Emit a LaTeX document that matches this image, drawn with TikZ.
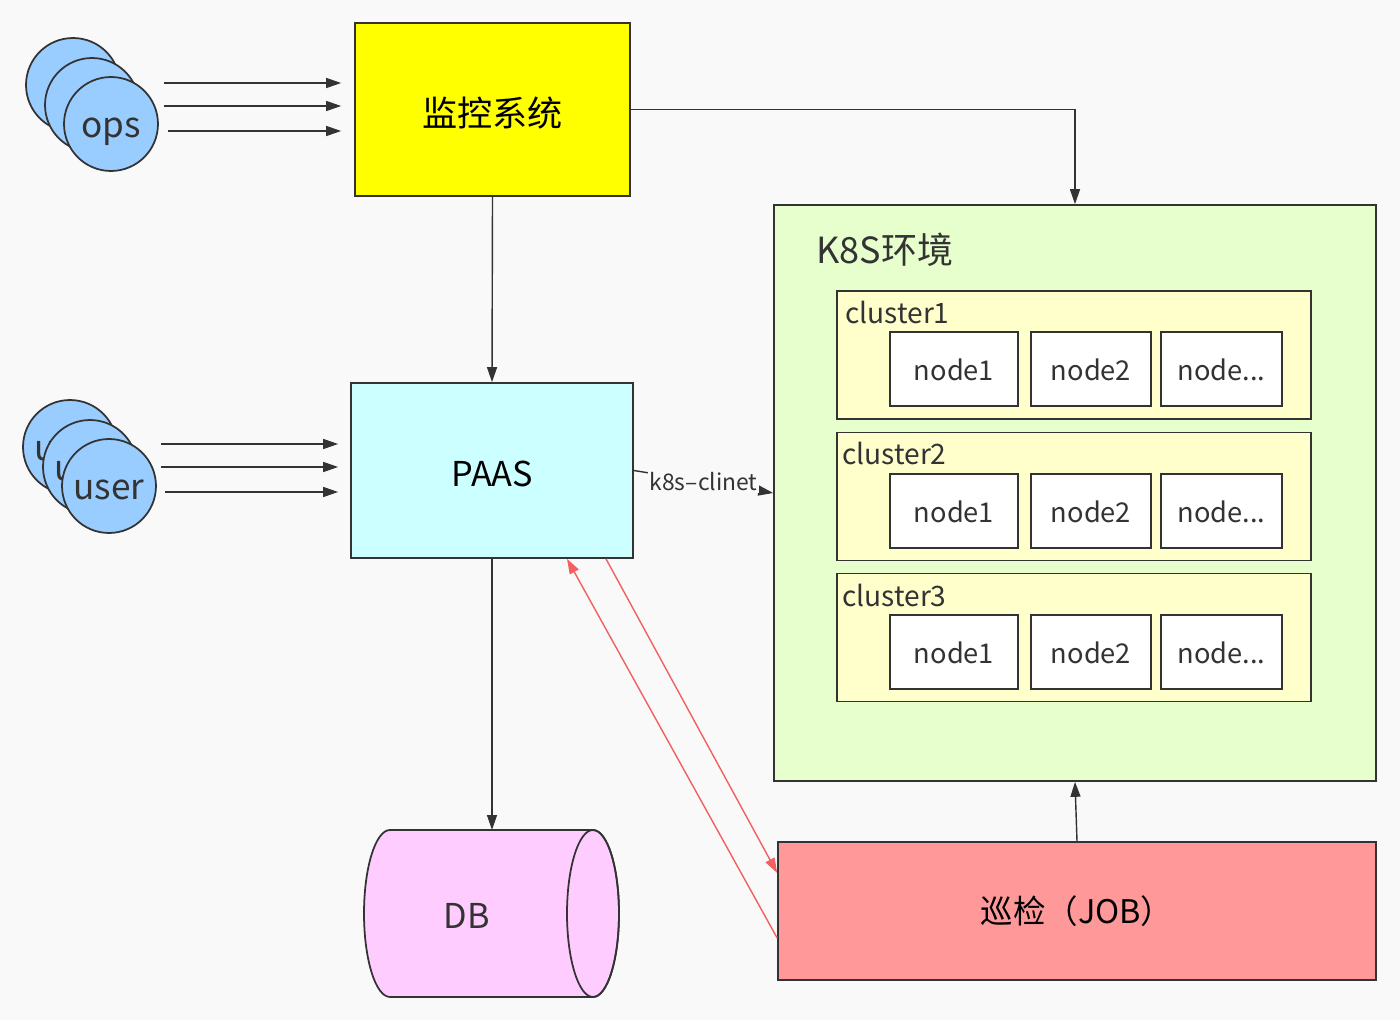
\documentclass[tikz,border=0pt]{standalone}
\usepackage{fontspec}
\setmainfont{Noto Sans CJK SC}
\usepackage{xcolor}
\usepackage{tikz}
\usetikzlibrary{arrows.meta,positioning,calc}
\definecolor{PageGray}{HTML}{F9F9F9}
\definecolor{LineDark}{HTML}{333333}
\definecolor{UserBlue}{HTML}{99CCFF}
\definecolor{MonYellow}{HTML}{FFFF00}
\definecolor{PaasCyan}{HTML}{CCFFFF}
\definecolor{EnvGreen}{HTML}{E6FFCC}
\definecolor{ClusterCream}{HTML}{FFFFCC}
\definecolor{DbPink}{HTML}{FFCCFF}
\definecolor{JobRed}{HTML}{FF9999}
\definecolor{LinkRed}{HTML}{F26060}

\begin{document}
\begin{tikzpicture}[
  x=0.02cm, y=-0.02cm,
  box/.style={draw=LineDark,line width=1pt,inner sep=0pt,align=center},
  person/.style={circle,draw=LineDark,line width=1pt,fill=UserBlue,minimum size=1.88cm,inner sep=0pt,text height=15pt,text depth=0pt,font=\fontsize{20}{24}\selectfont,text=LineDark},
  cluster/.style={box,fill=ClusterCream,minimum width=9.48cm,minimum height=2.56cm},
  host/.style={box,fill=white,minimum height=1.48cm,text height=14pt,text depth=1pt,font=\fontsize{15.5}{18}\selectfont,text=LineDark},
  tag/.style={anchor=west,inner sep=0pt,font=\fontsize{16}{19}\selectfont,text=LineDark},
  arrow/.style={-{Triangle[length=3mm,width=2mm]},line width=0.8pt,draw=LineDark},
  redarrow/.style={arrow,draw=LinkRed}
]
  \fill[PageGray] (0,0) rectangle (1400,1020);

  % ops and user groups
  \node[person] (ops3) at (73,85) {};
  \node[person] (ops2) at (92,105) {};
  \node[person] (ops) at (111,124) {ops};
  \node[person] (user3) at (70,447) {user};
  \node[person] (user2) at (90,467) {user};
  \node[person] (user) at (109,486) {user};

  % main boxes
  \node[box,fill=MonYellow,minimum width=5.5cm,minimum height=3.46cm,text height=22pt,text depth=2.4pt,font=\fontsize{20}{24}\selectfont] (mon) at (492.5,109.5) {监控系统};
  \node[box,fill=PaasCyan,minimum width=5.64cm,minimum height=3.5cm,text height=18.5pt,text depth=0pt,font=\fontsize{19.5}{23}\selectfont] (pa) at (492,470.5) {PAAS};
  \node[box,fill=EnvGreen,minimum width=12.04cm,minimum height=11.52cm] (k8s) at (1075,493) {};
  \node[tag,font=\fontsize{20.5}{24}\selectfont] (k8sname) at (816,250) {K8S环境};
  \node[box,fill=JobRed,minimum width=11.96cm,minimum height=2.76cm,font=\fontsize{18.5}{22}\selectfont] (job) at (1077,911) {巡检（JOB）};

  % clusters
  \node[cluster] (c1) at (1074,355) {};
  \node[tag] (c1name) at (845,312) {cluster1};
  \node[host,minimum width=2.56cm] (c1n1) at (954,369) {node1};
  \node[host,minimum width=2.4cm] (c1n2) at (1091,369) {node2};
  \node[host,minimum width=2.42cm] (c1n3) at (1221.5,369) {node...};

  \node[cluster] (c2) at (1074,496.5) {};
  \node[tag] (c2name) at (842,453) {cluster2};
  \node[host,minimum width=2.56cm] (c2n1) at (954,511) {node1};
  \node[host,minimum width=2.4cm] (c2n2) at (1091,511) {node2};
  \node[host,minimum width=2.42cm] (c2n3) at (1221.5,511) {node...};

  \node[cluster] (c3) at (1074,637.5) {};
  \node[tag] (c3name) at (842,595) {cluster3};
  \node[host,minimum width=2.56cm] (c3n1) at (954,652) {node1};
  \node[host,minimum width=2.4cm] (c3n2) at (1091,652) {node2};
  \node[host,minimum width=2.42cm] (c3n3) at (1221.5,652) {node...};

  % database
  \filldraw[fill=DbPink,draw=LineDark,line width=1pt]
    (593,830) -- (390,830) arc[start angle=90,end angle=270,x radius=0.52cm,y radius=1.67cm]
    -- (593,997) arc[start angle=-90,end angle=90,x radius=0.52cm,y radius=1.67cm] -- cycle;
  \draw[draw=LineDark,line width=1pt] (593,913.5) ellipse[x radius=0.52cm,y radius=1.67cm];
  \node[font=\fontsize{19.5}{23}\selectfont,text=LineDark] (db) at (467,916) {DB};
  \coordinate (dbtop) at (492,830);

  % incoming requests
  \coordinate (opsa1) at (164,83);
  \coordinate (opsa2) at (164,106);
  \coordinate (opsa3) at (168,131);
  \draw[arrow,shorten >=0.26cm] (opsa1) -- (opsa1 -| mon.west);
  \draw[arrow,shorten >=0.26cm] (opsa2) -- (opsa2 -| mon.west);
  \draw[arrow,shorten >=0.26cm] (opsa3) -- (opsa3 -| mon.west);
  \coordinate (usera1) at (161,444);
  \coordinate (usera2) at (161,467);
  \coordinate (usera3) at (165,492);
  \draw[arrow,shorten >=0.24cm] (usera1) -- (usera1 -| pa.west);
  \draw[arrow,shorten >=0.24cm] (usera2) -- (usera2 -| pa.west);
  \draw[arrow,shorten >=0.24cm] (usera3) -- (usera3 -| pa.west);

  % flows
  \draw[arrow] (mon.east) -| (k8s.north);
  \draw[arrow] (mon.south) -- (pa.north);
  \draw[arrow] (pa.south) -- (dbtop);
  \draw[arrow] (pa.east) -- node[fill=PageGray,inner sep=1pt,font=\fontsize{13}{15}\selectfont,text=LineDark]{k8s–clinet} (k8s.west);
  \draw[arrow] (job.north) -- (k8s.south);
  \draw[redarrow] ($(pa.south)+(114,0)$) -- ($(job.west)+(0,-38)$);
  \draw[redarrow] ($(job.west)+(0,27)$) -- ($(pa.south)+(75,0)$);
\end{tikzpicture}
\end{document}
